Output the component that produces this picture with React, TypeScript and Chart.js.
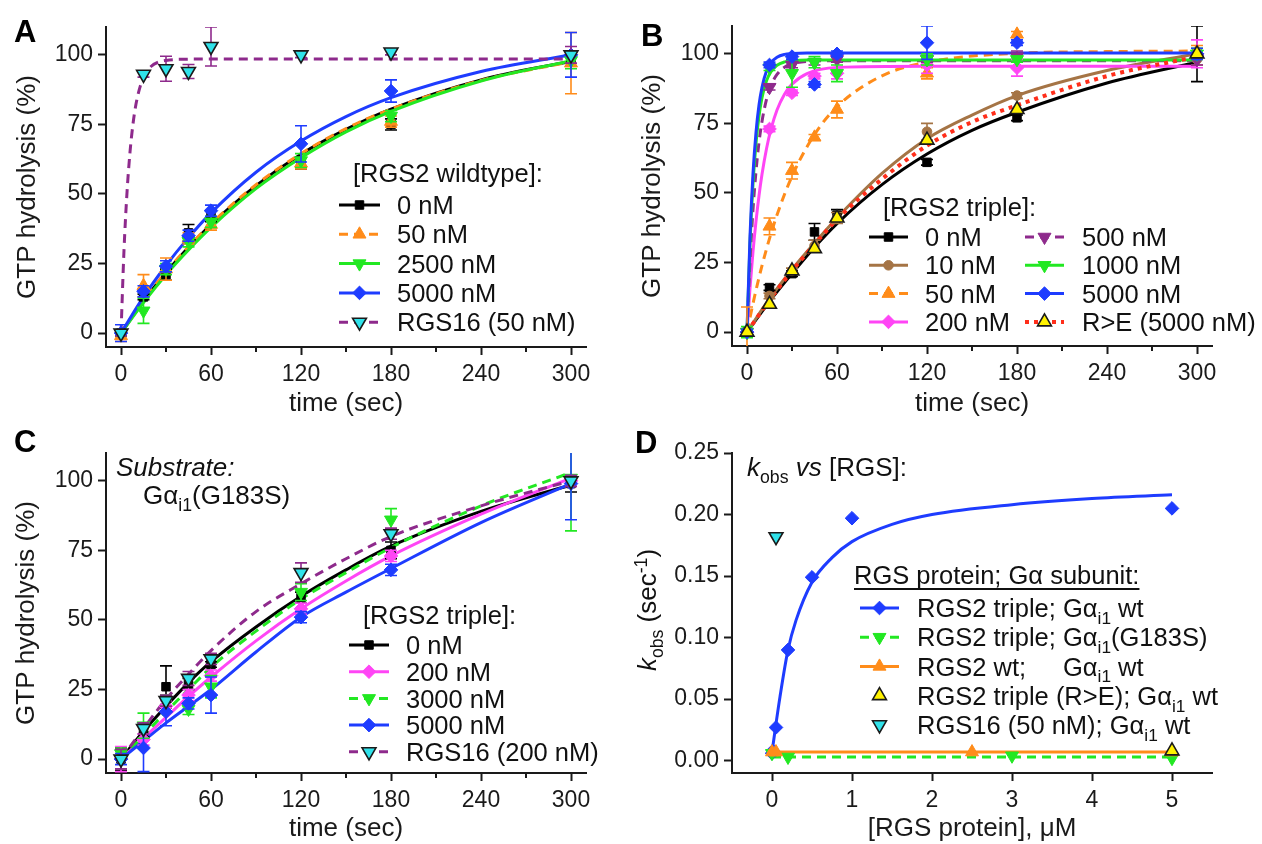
import React, { useEffect, useRef } from 'react';
import { Chart, registerables } from 'chart.js';

Chart.register(...registerables);

const FONT = "'Liberation Sans', Arial, Helvetica, sans-serif";
const AX = '#1a1a1a';

// ---------------- colours ----------------
const C_BLACK = '#000000';
const C_ORANGE = '#ff8c1a';
const C_GREEN = '#22e822';
const C_BLUE = '#1e3cff';
const C_PURPLE = '#8e2a8c';
const C_CYAN = '#30e2ea';
const C_MAGENTA = '#ff45f5';
const C_BROWN = '#a57445';
const C_RED = '#ff2e1a';
const C_YELLOW = '#fff200';
const C_OUTLINE = '#1a1a1a';

// ---------------- tick labels ----------------
const TIME_TICKS = [0, 60, 120, 180, 240, 300];
const TIME_MINOR = [30, 90, 150, 210, 270];
const PCT_TICKS = [0, 25, 50, 75, 100];
const K_TICKS = [0, 0.05, 0.1, 0.15, 0.2, 0.25];
const CONC_TICKS = [0, 1, 2, 3, 4, 5];

// ---------------- fit sampling times ----------------
const FIT_T = [0, 15, 30, 45, 60, 90, 120, 150, 180, 240, 300];
const FIT_T_FAST = [0, 2, 4, 6, 8, 10, 13, 16, 20, 25, 30, 40, 60, 120, 180, 240, 300];
const FIT_T_MED = [0, 5, 10, 15, 20, 30, 45, 60, 90, 120, 180, 240, 300];

// ---------------- Panel A: RGS2 wildtype ----------------
const A_TIME = [0, 15, 30, 45, 60, 120, 180, 300];
const A_WT0 = [0, 13, 21, 36, 42, 61, 75, 98];
const A_WT0_ERR = [1, 1, 2, 3, 2, 2, 2, 2];
const A_WT50 = [-1, 17, 23, 34, 39, 61, 76, 97];
const A_WT50_ERR = [2, 4, 4, 2, 2, 2, 2, 11];
const A_WT2500 = [0, 8, 23, 33, 40, 62, 78, 98];
const A_WT2500_ERR = [1, 4.5, 2, 2, 2, 2.5, 2, 3];
const A_WT5000 = [0, 15, 24, 35, 44, 68, 87, 100];
const A_WT5000_ERR = [3, 2, 2, 2, 2, 6.5, 4, 8];
const A_RGS16 = [0, 93, 95, 94, 103, 100, 101, 100];
const A_RGS16_ERR = [1, 1, 4.5, 2.5, 7, 1, 1, 3];

const A_FIT_WT0 = [0, 11.5, 21.7, 30.8, 39, 53, 64.3, 73.2, 80.5, 91, 97.7];
const A_FIT_WT50 = [0, 11.8, 22, 31, 39.3, 53.3, 64.5, 73.5, 80.5, 90.8, 97.5];
const A_FIT_WT2500 = [0, 11, 21, 29.9, 38, 51.9, 63, 72.3, 79.7, 90.6, 97.9];
const A_FIT_WT5000 = [0, 13, 24.3, 34.3, 43.2, 57.8, 69, 77.8, 84.6, 94, 100];
const A_FIT_RGS16 = [0, 29.8, 50.5, 65, 75.2, 82.3, 89, 93, 95.8, 97.4, 98, 98.4, 98.5, 98.5, 98.5, 98.5, 98.5];

// ---------------- Panel B: RGS2 triple ----------------
const B_TIME = [0, 15, 30, 45, 60, 120, 180, 300];
const B_TR0 = [0, 16, 21, 36, 42, 61, 77, 100];
const B_TR0_ERR = [1, 1, 1, 3, 2, 1, 1, 10];
const B_TR10 = [0, 13, 22, 31, 41, 72, 85, 98];
const B_TR10_ERR = [1, 1, 1, 2, 2, 3, 1, 2];
const B_TR50 = [0, 38, 58, 70, 80, 93, 107, 101];
const B_TR50_ERR = [9, 3, 3, 1, 3, 2, 1, 2];
const B_TR200 = [0, 73, 86, 92, 93, 96, 95, 100];
const B_TR200_ERR = [1, 1, 1, 1, 2, 3, 3, 5];
const B_TR500 = [0, 88, 96, 97, 98, 98, 99, 98];
const B_TR500_ERR = [1, 1, 1, 1, 1, 1, 2, 2];
const B_TR1000 = [0, 95, 93, 97, 93, 98, 98, 100];
const B_TR1000_ERR = [2, 1, 5, 2, 3, 2, 1, 2];
const B_TR5000 = [0, 96, 99, 89, 100, 104, 104, 100];
const B_TR5000_ERR = [1, 1, 1, 1, 1, 6, 1, 2];
const B_RE5000 = [0, 10, 22, 30, 41, 69, 80, 100];
const B_RE5000_ERR = [0, 0, 0, 0, 0, 0, 0, 0];

const B_FIT_TR0 = [0, 11, 21, 30.5, 39, 53, 64, 72.5, 79, 89.5, 97];
const B_FIT_TR10 = [0, 12, 22.5, 32, 41, 57, 69.5, 78, 85, 94, 100];
const B_FIT_RE5000 = [0, 11.5, 22, 31.5, 40.5, 55, 67, 75.5, 81.5, 92, 99];
const B_FIT_TR50 = [0, 12.7, 23.9, 33.6, 42.1, 56, 71, 81, 92.1, 97, 100.2, 100.8, 101];
const B_FIT_TR200 = [0, 15.8, 28.9, 39.8, 49, 56.7, 65.9, 72.9, 79.8, 85.5, 89.1, 92.9, 95.1, 95.5, 95.5, 95.5, 95.5];
const B_FIT_TR500 = [0, 25.3, 44, 57.8, 68.2, 75.7, 83.6, 88.6, 92.6, 95.2, 96.4, 97.3, 97.5, 97.5, 97.5, 97.5, 97.5];
const B_FIT_TR1000 = [0, 31.9, 53.3, 67.8, 77.6, 84.2, 90.3, 93.6, 95.9, 97.1, 97.5, 97.8, 97.8, 97.8, 97.8, 97.8, 97.8];
const B_FIT_TR5000 = [0, 34.4, 57, 71.8, 81.6, 88, 93.8, 96.8, 98.8, 99.8, 100.1, 100.3, 100.3, 100.3, 100.3, 100.3, 100.3];

// ---------------- Panel C: G183S substrate ----------------
const C_TIME = [0, 15, 30, 45, 60, 120, 180, 300];
const C_TR0 = [0, 10, 26, 27, 34, 58, 75, 99];
const C_TR0_ERR = [4, 2, 7.5, 2, 1, 2, 3, 3];
const C_TR200 = [0, 7, 19, 23, 30, 54, 73, 100];
const C_TR200_ERR = [4.5, 2, 2, 2, 2, 2, 2, 2];
const C_TR3000 = [2, 12, 21, 18, 26, 60, 86, 101];
const C_TR3000_ERR = [2, 4.5, 2, 2, 4, 3, 4, 19];
const C_TR5000 = [0, 4, 17, 20, 23, 51, 68, 99];
const C_TR5000_ERR = [2, 8.5, 5, 2, 6.5, 2, 2, 13];
const C_RGS16 = [0, 11, 21, 29, 36, 67, 81, 100];
const C_RGS16_ERR = [3.5, 2, 2, 2.5, 2, 3.5, 2, 2];

const C_FIT_TR0 = [0, 10, 19, 27.5, 35, 47.5, 58.5, 68, 76.5, 89, 98.5];
const C_FIT_TR200 = [0, 7.5, 15, 22.5, 29.5, 42.5, 54, 64, 73, 88, 101];
const C_FIT_TR3000 = [0, 8.5, 17, 25, 33, 46, 57.5, 67, 76, 91, 103];
const C_FIT_TR5000 = [0, 6.5, 13, 19, 25, 38.5, 51, 60, 68.5, 85, 99];
const C_FIT_RGS16 = [0, 11, 21.5, 30.5, 39, 53, 63, 72, 80, 91, 100];

// ---------------- Panel D: kobs vs [RGS] ----------------
const D_TRIPLE_X = [0, 0.01, 0.05, 0.2, 0.5, 1, 5];
const D_TRIPLE_K = [0.006, 0.008, 0.027, 0.09, 0.149, 0.197, 0.205];
const D_G183S_X = [0, 0.2, 3, 5];
const D_G183S_K = [0.006, 0.003, 0.004, 0.002];
const D_WT_X = [0, 0.05, 2.5, 5];
const D_WT_K = [0.007, 0.007, 0.007, 0.007];
const D_RE_X = [5];
const D_RE_K = [0.008];
const D_RGS16_X = [0.05];
const D_RGS16_K = [0.182];

const D_FIT_TRIPLE_X = [0, 0.02, 0.05, 0.1, 0.2, 0.3, 0.5, 0.75, 1, 1.5, 2, 3, 4, 5];
const D_FIT_TRIPLE_K = [0.007, 0.016, 0.03, 0.052, 0.09, 0.114, 0.145, 0.165, 0.178, 0.192, 0.2, 0.208, 0.213, 0.216];
const D_FIT_G183S_X = [0, 5];
const D_FIT_G183S_K = [0.003, 0.003];
const D_FIT_WT_X = [0, 5];
const D_FIT_WT_K = [0.007, 0.007];

// ---------------- types & helpers ----------------
type Run = { t: string; it?: boolean; sub?: boolean; sup?: boolean; bold?: boolean; tabText?: string };
type Marker = { style: string; rot: number; r: number; fill: string; stroke: string; sw: number };
type Series = {
  label: Run[];
  color: string;
  dash: number[];
  lw: number;
  marker: Marker;
  fitX?: number[];
  fitY?: number[];
  x: number[];
  y: number[];
  err?: number[];
  legendLine: boolean;
};

const mk = (style: string, r: number, fill: string, stroke?: string, sw?: number, rot?: number): Marker => ({
  style,
  r,
  fill,
  stroke: stroke ?? fill,
  sw: sw ?? 1,
  rot: rot ?? 0,
});

const M_SQUARE = mk('rect', 6, C_BLACK);
const M_CIRCLE_BROWN = mk('circle', 4.8, C_BROWN);
const M_TRI_ORANGE = mk('triangle', 7.5, C_ORANGE);
const M_INV_GREEN = mk('triangle', 7.5, C_GREEN, C_GREEN, 1, 180);
const M_DIA_BLUE = mk('rectRot', 6.8, C_BLUE);
const M_DIA_MAGENTA = mk('rectRot', 6.8, C_MAGENTA);
const M_INV_PURPLE = mk('triangle', 7.5, C_PURPLE, C_PURPLE, 1, 180);
const M_INV_CYAN = mk('triangle', 8, C_CYAN, C_OUTLINE, 1.6, 180);
const M_TRI_YELLOW = mk('triangle', 8, C_YELLOW, C_OUTLINE, 1.6);

const txt = (t: string): Run[] => [{ t }];
const GA = (rest: string): Run[] => [{ t: 'Gα' }, { t: 'i1', sub: true }, { t: rest }];

function fontFor(r: Run, size: number) {
  const fs = r.sub || r.sup ? size * 0.68 : size;
  return `${r.it ? 'italic ' : ''}${r.bold ? 'bold ' : ''}${fs}px ${FONT}`;
}

function runsWidth(ctx: CanvasRenderingContext2D, runs: Run[], size: number) {
  let w = 0;
  for (const r of runs) {
    if (r.tabText !== undefined) {
      ctx.font = `${size}px ${FONT}`;
      w = Math.max(w, ctx.measureText(r.tabText).width);
      continue;
    }
    ctx.font = fontFor(r, size);
    w += ctx.measureText(r.t).width;
  }
  return w;
}

function drawRuns(ctx: CanvasRenderingContext2D, runs: Run[], x: number, cy: number, size: number, color = '#111') {
  ctx.save();
  ctx.fillStyle = color;
  ctx.textAlign = 'left';
  ctx.textBaseline = 'alphabetic';
  let cx = x;
  for (const r of runs) {
    if (r.tabText !== undefined) {
      ctx.font = `${size}px ${FONT}`;
      cx = Math.max(cx, x + ctx.measureText(r.tabText).width);
      continue;
    }
    ctx.font = fontFor(r, size);
    let base = cy + size * 0.36;
    if (r.sub) base += size * 0.27;
    if (r.sup) base -= size * 0.36;
    ctx.fillText(r.t, cx, base);
    cx += ctx.measureText(r.t).width;
  }
  ctx.restore();
  return cx;
}

function drawMarker(ctx: CanvasRenderingContext2D, m: Marker, x: number, y: number) {
  ctx.save();
  ctx.beginPath();
  const r = m.r;
  if (m.style === 'circle') {
    ctx.arc(x, y, r, 0, Math.PI * 2);
  } else if (m.style === 'rect') {
    const s = r * Math.SQRT1_2;
    ctx.rect(x - s, y - s, 2 * s, 2 * s);
  } else if (m.style === 'rectRot') {
    ctx.moveTo(x, y - r);
    ctx.lineTo(x + r, y);
    ctx.lineTo(x, y + r);
    ctx.lineTo(x - r, y);
    ctx.closePath();
  } else {
    let a = (m.rot * Math.PI) / 180;
    ctx.moveTo(x + Math.sin(a) * r, y - Math.cos(a) * r);
    a += (2 * Math.PI) / 3;
    ctx.lineTo(x + Math.sin(a) * r, y - Math.cos(a) * r);
    a += (2 * Math.PI) / 3;
    ctx.lineTo(x + Math.sin(a) * r, y - Math.cos(a) * r);
    ctx.closePath();
  }
  ctx.fillStyle = m.fill;
  ctx.fill();
  ctx.lineWidth = m.sw;
  ctx.strokeStyle = m.stroke;
  ctx.stroke();
  ctx.restore();
}

const zip = (xs: number[], ys: number[]) => xs.map((x, i) => ({ x, y: ys[i] }));

// ---------------- series ----------------
const A_SERIES: Series[] = [
  { label: txt('0 nM'), color: C_BLACK, dash: [], lw: 3, marker: M_SQUARE, fitX: FIT_T, fitY: A_FIT_WT0, x: A_TIME, y: A_WT0, err: A_WT0_ERR, legendLine: true },
  { label: txt('50 nM'), color: C_ORANGE, dash: [9, 6], lw: 3, marker: M_TRI_ORANGE, fitX: FIT_T, fitY: A_FIT_WT50, x: A_TIME, y: A_WT50, err: A_WT50_ERR, legendLine: true },
  { label: txt('2500 nM'), color: C_GREEN, dash: [], lw: 3, marker: M_INV_GREEN, fitX: FIT_T, fitY: A_FIT_WT2500, x: A_TIME, y: A_WT2500, err: A_WT2500_ERR, legendLine: true },
  { label: txt('5000 nM'), color: C_BLUE, dash: [], lw: 3, marker: M_DIA_BLUE, fitX: FIT_T, fitY: A_FIT_WT5000, x: A_TIME, y: A_WT5000, err: A_WT5000_ERR, legendLine: true },
  { label: txt('RGS16 (50 nM)'), color: C_PURPLE, dash: [9, 6], lw: 3, marker: M_INV_CYAN, fitX: FIT_T_FAST, fitY: A_FIT_RGS16, x: A_TIME, y: A_RGS16, err: A_RGS16_ERR, legendLine: true },
];

const B_SERIES: Series[] = [
  { label: txt('0 nM'), color: C_BLACK, dash: [], lw: 3, marker: M_SQUARE, fitX: FIT_T, fitY: B_FIT_TR0, x: B_TIME, y: B_TR0, err: B_TR0_ERR, legendLine: true },
  { label: txt('10 nM'), color: C_BROWN, dash: [], lw: 3, marker: M_CIRCLE_BROWN, fitX: FIT_T, fitY: B_FIT_TR10, x: B_TIME, y: B_TR10, err: B_TR10_ERR, legendLine: true },
  { label: txt('50 nM'), color: C_ORANGE, dash: [9, 6], lw: 3, marker: M_TRI_ORANGE, fitX: FIT_T_MED, fitY: B_FIT_TR50, x: B_TIME, y: B_TR50, err: B_TR50_ERR, legendLine: true },
  { label: txt('200 nM'), color: C_MAGENTA, dash: [], lw: 3, marker: M_DIA_MAGENTA, fitX: FIT_T_FAST, fitY: B_FIT_TR200, x: B_TIME, y: B_TR200, err: B_TR200_ERR, legendLine: true },
  { label: txt('500 nM'), color: C_PURPLE, dash: [9, 6], lw: 3, marker: M_INV_PURPLE, fitX: FIT_T_FAST, fitY: B_FIT_TR500, x: B_TIME, y: B_TR500, err: B_TR500_ERR, legendLine: true },
  { label: txt('1000 nM'), color: C_GREEN, dash: [], lw: 3, marker: M_INV_GREEN, fitX: FIT_T_FAST, fitY: B_FIT_TR1000, x: B_TIME, y: B_TR1000, err: B_TR1000_ERR, legendLine: true },
  { label: txt('5000 nM'), color: C_BLUE, dash: [], lw: 3, marker: M_DIA_BLUE, fitX: FIT_T_FAST, fitY: B_FIT_TR5000, x: B_TIME, y: B_TR5000, err: B_TR5000_ERR, legendLine: true },
  { label: txt('R>E (5000 nM)'), color: C_RED, dash: [4, 5], lw: 4, marker: M_TRI_YELLOW, fitX: FIT_T, fitY: B_FIT_RE5000, x: B_TIME, y: B_RE5000, err: B_RE5000_ERR, legendLine: true },
];

const C_SERIES: Series[] = [
  { label: txt('0 nM'), color: C_BLACK, dash: [], lw: 3, marker: M_SQUARE, fitX: FIT_T, fitY: C_FIT_TR0, x: C_TIME, y: C_TR0, err: C_TR0_ERR, legendLine: true },
  { label: txt('200 nM'), color: C_MAGENTA, dash: [], lw: 3, marker: M_DIA_MAGENTA, fitX: FIT_T, fitY: C_FIT_TR200, x: C_TIME, y: C_TR200, err: C_TR200_ERR, legendLine: true },
  { label: txt('3000 nM'), color: C_GREEN, dash: [9, 6], lw: 3, marker: M_INV_GREEN, fitX: FIT_T, fitY: C_FIT_TR3000, x: C_TIME, y: C_TR3000, err: C_TR3000_ERR, legendLine: true },
  { label: txt('5000 nM'), color: C_BLUE, dash: [], lw: 3, marker: M_DIA_BLUE, fitX: FIT_T, fitY: C_FIT_TR5000, x: C_TIME, y: C_TR5000, err: C_TR5000_ERR, legendLine: true },
  { label: txt('RGS16 (200 nM)'), color: C_PURPLE, dash: [9, 6], lw: 3, marker: M_INV_CYAN, fitX: FIT_T, fitY: C_FIT_RGS16, x: C_TIME, y: C_RGS16, err: C_RGS16_ERR, legendLine: true },
];

const D_SERIES: Series[] = [
  { label: [{ t: 'RGS2 triple; ' }, ...GA(' wt')], color: C_BLUE, dash: [], lw: 3, marker: M_DIA_BLUE, fitX: D_FIT_TRIPLE_X, fitY: D_FIT_TRIPLE_K, x: D_TRIPLE_X, y: D_TRIPLE_K, legendLine: true },
  { label: [{ t: 'RGS2 triple; ' }, ...GA('(G183S)')], color: C_GREEN, dash: [9, 6], lw: 3, marker: M_INV_GREEN, fitX: D_FIT_G183S_X, fitY: D_FIT_G183S_K, x: D_G183S_X, y: D_G183S_K, legendLine: true },
  { label: [{ t: 'RGS2 wt;' }, { t: '', tabText: 'RGS2 triple; ' }, ...GA(' wt')], color: C_ORANGE, dash: [], lw: 3, marker: M_TRI_ORANGE, fitX: D_FIT_WT_X, fitY: D_FIT_WT_K, x: D_WT_X, y: D_WT_K, legendLine: true },
  { label: [{ t: 'RGS2 triple (R>E); ' }, ...GA(' wt')], color: C_OUTLINE, dash: [], lw: 3, marker: M_TRI_YELLOW, x: D_RE_X, y: D_RE_K, legendLine: false },
  { label: [{ t: 'RGS16 (50 nM); ' }, ...GA(' wt')], color: C_OUTLINE, dash: [], lw: 3, marker: M_INV_CYAN, x: D_RGS16_X, y: D_RGS16_K, legendLine: false },
];

// ---------------- panels ----------------
type LegendCol = { x1: number; x2: number; tx: number; cy0: number; dy: number; idx: number[] };
type Panel = {
  left: number;
  top: number;
  area: { l: number; r: number; t: number; b: number };
  xMin: number; xMax: number; yMin: number; yMax: number;
  xTicks: number[]; xMinor: number[]; yTicks: number[];
  xFmt: (v: number) => string; yFmt: (v: number) => string;
  xTitle: string; xTitlePad: number;
  yTitle: string; yTitlePad: number;
  series: Series[];
  letter: { t: string; x: number; cy: number };
  legendTitle: { runs: Run[]; x: number; cy: number; underline?: boolean };
  legendCols: LegendCol[];
  texts: { runs: Run[]; x: number; cy: number }[];
  customYTitle?: { runs: Run[]; cx: number; cy: number };
};

const PANELS: Panel[] = [
  {
    left: 0, top: 0, area: { l: 106, r: 586, t: 27, b: 347 },
    xMin: -10, xMax: 310, yMin: -5, yMax: 110,
    xTicks: TIME_TICKS, xMinor: TIME_MINOR, yTicks: PCT_TICKS,
    xFmt: (v) => String(v), yFmt: (v) => String(v),
    xTitle: 'time (sec)', xTitlePad: 3, yTitle: 'GTP hydrolysis (%)', yTitlePad: 12,
    series: A_SERIES,
    letter: { t: 'A', x: 14, cy: 31 },
    legendTitle: { runs: txt('[RGS2 wildtype]:'), x: 353, cy: 173 },
    legendCols: [{ x1: 339, x2: 380, tx: 397, cy0: 205, dy: 29.3, idx: [0, 1, 2, 3, 4] }],
    texts: [],
  },
  {
    left: 631, top: 0, area: { l: 101, r: 581, t: 26, b: 346 },
    xMin: -10, xMax: 310, yMin: -5, yMax: 110,
    xTicks: TIME_TICKS, xMinor: TIME_MINOR, yTicks: PCT_TICKS,
    xFmt: (v) => String(v), yFmt: (v) => String(v),
    xTitle: 'time (sec)', xTitlePad: 3, yTitle: 'GTP hydrolysis (%)', yTitlePad: 6,
    series: B_SERIES,
    letter: { t: 'B', x: 10, cy: 35 },
    legendTitle: { runs: txt('[RGS2 triple]:'), x: 252, cy: 207 },
    legendCols: [
      { x1: 238, x2: 277, tx: 294, cy0: 237, dy: 28.3, idx: [0, 1, 2, 3] },
      { x1: 394, x2: 433, tx: 451, cy0: 237, dy: 28.3, idx: [4, 5, 6, 7] },
    ],
    texts: [],
  },
  {
    left: 0, top: 422, area: { l: 106, r: 586, t: 31, b: 351 },
    xMin: -10, xMax: 310, yMin: -5, yMax: 110,
    xTicks: TIME_TICKS, xMinor: TIME_MINOR, yTicks: PCT_TICKS,
    xFmt: (v) => String(v), yFmt: (v) => String(v),
    xTitle: 'time (sec)', xTitlePad: 0, yTitle: 'GTP hydrolysis (%)', yTitlePad: 11,
    series: C_SERIES,
    letter: { t: 'C', x: 14, cy: 19 },
    legendTitle: { runs: txt('[RGS2 triple]:'), x: 363, cy: 193 },
    legendCols: [{ x1: 349, x2: 389, tx: 406, cy0: 223, dy: 26.7, idx: [0, 1, 2, 3, 4] }],
    texts: [
      { runs: [{ t: 'Substrate:', it: true }], x: 116, cy: 45 },
      { runs: [{ t: 'Gα' }, { t: 'i1', sub: true }, { t: '(G183S)' }], x: 143, cy: 73 },
    ],
  },
  {
    left: 631, top: 422, area: { l: 101, r: 581, t: 31, b: 351 },
    xMin: -0.5, xMax: 5.5, yMin: -0.01, yMax: 0.25,
    xTicks: CONC_TICKS, xMinor: [], yTicks: K_TICKS,
    xFmt: (v) => String(v), yFmt: (v) => v.toFixed(2),
    xTitle: '[RGS protein], μM', xTitlePad: 0, yTitle: '', yTitlePad: 0,
    series: D_SERIES,
    letter: { t: 'D', x: 4, cy: 20 },
    legendTitle: { runs: [{ t: 'RGS protein; Gα subunit:' }], x: 223, cy: 153, underline: true },
    legendCols: [{ x1: 229, x2: 268, tx: 286, cy0: 186, dy: 29.2, idx: [0, 1, 2, 3, 4] }],
    texts: [{ runs: [{ t: 'k', it: true }, { t: 'obs', sub: true }, { t: ' vs', it: true }, { t: ' [RGS]:' }], x: 116, cy: 45 }],
    customYTitle: { runs: [{ t: 'k', it: true }, { t: 'obs', sub: true }, { t: ' (sec' }, { t: '-1', sup: true }, { t: ')' }], cx: 16, cy: 188 },
  },
];

// ---------------- plugins ----------------
const errorBarPlugin = {
  id: 'errbars',
  beforeDatasetDraw(chart: any, args: any) {
    const ds: any = chart.data.datasets[args.index];
    if (!ds.errs) return;
    const { ctx, chartArea: ca } = chart;
    const xs = chart.scales.x;
    const ys = chart.scales.y;
    ctx.save();
    ctx.beginPath();
    ctx.rect(ca.left, ca.top, ca.right - ca.left, ca.bottom - ca.top);
    ctx.clip();
    ctx.strokeStyle = ds.errColor;
    ctx.lineWidth = 1.6;
    ds.data.forEach((pt: any, i: number) => {
      const e = ds.errs[i];
      if (!e) return;
      const px = xs.getPixelForValue(pt.x);
      const top = ys.getPixelForValue(pt.y + e);
      const bot = ys.getPixelForValue(pt.y - e);
      ctx.beginPath();
      ctx.moveTo(px, top);
      ctx.lineTo(px, bot);
      ctx.moveTo(px - 6, top);
      ctx.lineTo(px + 6, top);
      ctx.moveTo(px - 6, bot);
      ctx.lineTo(px + 6, bot);
      ctx.stroke();
    });
    ctx.restore();
  },
};

function makeDecor(p: Panel) {
  return {
    id: 'decor',
    afterDraw(chart: any) {
      const ctx: CanvasRenderingContext2D = chart.ctx;
      const ca = chart.chartArea;
      const xs = chart.scales.x;
      // minor ticks
      ctx.save();
      ctx.strokeStyle = AX;
      ctx.lineWidth = 2;
      for (const v of p.xMinor) {
        const px = Math.round(xs.getPixelForValue(v));
        ctx.beginPath();
        ctx.moveTo(px, ca.bottom);
        ctx.lineTo(px, ca.bottom + 5);
        ctx.stroke();
      }
      ctx.restore();
      // panel letter
      drawRuns(ctx, [{ t: p.letter.t, bold: true }], p.letter.x, p.letter.cy, 31, '#000');
      // annotation texts
      for (const t of p.texts) drawRuns(ctx, t.runs, t.x, t.cy, 26);
      // custom y title
      if (p.customYTitle) {
        const w = runsWidth(ctx, p.customYTitle.runs, 26);
        ctx.save();
        ctx.translate(p.customYTitle.cx, p.customYTitle.cy);
        ctx.rotate(-Math.PI / 2);
        drawRuns(ctx, p.customYTitle.runs, -w / 2, 0, 26);
        ctx.restore();
      }
      // legend
      const LS = 25.5;
      const lt = p.legendTitle;
      const endX = drawRuns(ctx, lt.runs, lt.x, lt.cy, LS);
      if (lt.underline) {
        ctx.save();
        ctx.strokeStyle = '#111';
        ctx.lineWidth = 2;
        ctx.beginPath();
        ctx.moveTo(lt.x, lt.cy + 14);
        ctx.lineTo(endX, lt.cy + 14);
        ctx.stroke();
        ctx.restore();
      }
      for (const col of p.legendCols) {
        col.idx.forEach((si, row) => {
          const s = p.series[si];
          const cy = col.cy0 + row * col.dy;
          if (s.legendLine) {
            ctx.save();
            ctx.strokeStyle = s.color;
            ctx.lineWidth = s.lw;
            ctx.setLineDash(s.dash);
            ctx.beginPath();
            ctx.moveTo(col.x1, cy);
            ctx.lineTo(col.x2, cy);
            ctx.stroke();
            ctx.restore();
          }
          drawMarker(ctx, s.marker, (col.x1 + col.x2) / 2, cy);
          drawRuns(ctx, s.label, col.tx, cy, LS);
        });
      }
    },
  };
}

function buildDatasets(series: Series[]) {
  const ds: any[] = [];
  series.forEach((s) => {
    if (s.fitX && s.fitY) {
      ds.push({
        data: zip(s.fitX, s.fitY),
        showLine: true,
        borderColor: s.color,
        backgroundColor: s.color,
        borderWidth: s.lw,
        borderDash: s.dash,
        pointRadius: 0,
        pointHoverRadius: 0,
        cubicInterpolationMode: 'monotone',
        fill: false,
      });
    }
  });
  series.forEach((s) => {
    const m = s.marker;
    ds.push({
      data: zip(s.x, s.y),
      showLine: false,
      pointStyle: m.style,
      pointRotation: m.rot,
      pointRadius: m.r,
      pointHoverRadius: m.r,
      backgroundColor: m.fill,
      borderColor: m.stroke,
      pointBackgroundColor: m.fill,
      pointBorderColor: m.stroke,
      pointBorderWidth: m.sw,
      borderWidth: m.sw,
      errs: s.err,
      errColor: s.color,
    });
  });
  ds.forEach((d, i) => (d.order = -i));
  return ds;
}

function buildConfig(p: Panel): any {
  const W = 631;
  const H = 422;
  const tickFont = { family: FONT, size: 23 };
  const titleFont = { family: FONT, size: 26 };
  return {
    type: 'scatter',
    data: { datasets: buildDatasets(p.series) },
    options: {
      animation: false,
      responsive: false,
      maintainAspectRatio: false,
      events: [],
      layout: { padding: { left: 0, top: p.area.t, right: W - p.area.r, bottom: 0 } },
      plugins: { legend: { display: false }, tooltip: { enabled: false } },
      scales: {
        x: {
          type: 'linear',
          position: 'bottom',
          min: p.xMin,
          max: p.xMax,
          afterFit: (s: any) => {
            s.height = H - p.area.b;
          },
          afterBuildTicks: (s: any) => {
            s.ticks = p.xTicks.map((v) => ({ value: v }));
          },
          ticks: { autoSkip: false, maxRotation: 0, padding: 6, color: AX, font: tickFont, callback: (v: any) => p.xFmt(Number(v)) },
          grid: { display: true, drawOnChartArea: false, drawTicks: true, tickLength: 8, tickWidth: 2, tickColor: AX },
          border: { display: true, color: AX, width: 2 },
          title: { display: true, text: p.xTitle, color: AX, font: titleFont, padding: { top: 0, bottom: p.xTitlePad } },
        },
        y: {
          type: 'linear',
          position: 'left',
          min: p.yMin,
          max: p.yMax,
          afterFit: (s: any) => {
            s.width = p.area.l;
          },
          afterBuildTicks: (s: any) => {
            s.ticks = p.yTicks.map((v) => ({ value: v }));
          },
          ticks: { autoSkip: false, padding: 5, color: AX, font: tickFont, callback: (v: any) => p.yFmt(Number(v)) },
          grid: { display: true, drawOnChartArea: false, drawTicks: true, tickLength: 8, tickWidth: 2, tickColor: AX },
          border: { display: true, color: AX, width: 2 },
          title: { display: !!p.yTitle, text: p.yTitle, color: AX, font: titleFont, padding: { top: p.yTitlePad, bottom: 0 } },
        },
      },
    },
    plugins: [errorBarPlugin, makeDecor(p)],
  };
}

function PanelChart({ p }: { p: Panel }) {
  const ref = useRef<HTMLCanvasElement>(null);
  useEffect(() => {
    if (!ref.current) return;
    const chart = new Chart(ref.current, buildConfig(p));
    return () => chart.destroy();
  }, [p]);
  return (
    <canvas
      ref={ref}
      width={631}
      height={422}
      style={{ position: 'absolute', left: p.left, top: p.top, width: 631, height: 422 }}
    />
  );
}

export default function App() {
  return (
    <div style={{ position: 'fixed', left: 0, top: 0, width: 1262, height: 844, background: '#ffffff', overflow: 'hidden' }}>
      {PANELS.map((p, i) => (
        <PanelChart key={i} p={p} />
      ))}
    </div>
  );
}
